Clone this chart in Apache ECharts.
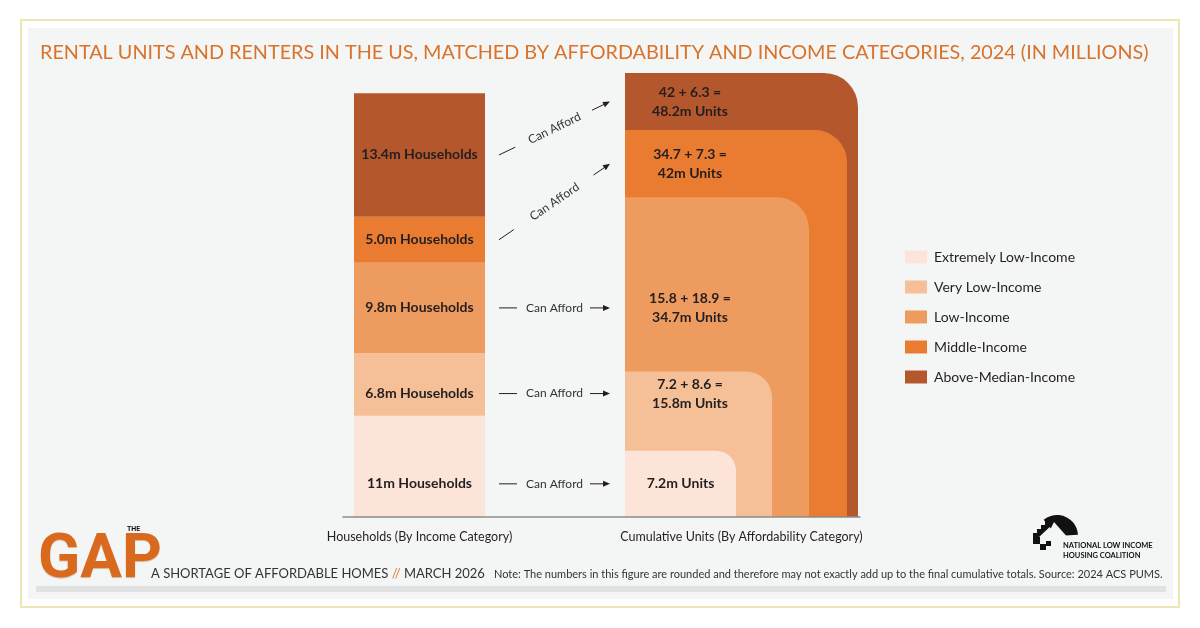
<!DOCTYPE html>
<html><head><meta charset="utf-8">
<script src="https://cdn.jsdelivr.net/npm/echarts@6/dist/echarts.min.js"></script>
<style>html,body{margin:0;padding:0;background:#fff}#c{width:1200px;height:628px}</style>
</head><body><div id="c"></div>
<script>
// ---- data ----
const categories = ['Extremely Low-Income', 'Very Low-Income', 'Low-Income', 'Middle-Income', 'Above-Median-Income'];
const households = [11, 6.8, 9.8, 5.0, 13.4];
const householdText = ['11', '6.8', '9.8', '5.0', '13.4'];
const unitsAdded = [7.2, 8.6, 18.9, 7.3, 6.3];
const cumulativeUnits = [7.2, 15.8, 34.7, 42, 48.2];
const xCategories = ['Households (By Income Category)', '', 'Cumulative Units (By Affordability Category)'];

// ---- styles ----
const colors = ['#fce5d8', '#f5bf97', '#ee9b5f', '#e97c31', '#b4572c'];
const blockWidths = [111, 147, 184, 222, 233];
const radii = [20, 26, 32, 32, 34];
const FONT = 'Lato, "Open Sans", sans-serif';
const INK = '#231f20';
const barW = 131;

const chart = echarts.init(document.getElementById('c'));

function rowLayout(y, i) {
  let lo = 0;
  for (let k = 0; k < i; k++) lo += households[k];
  const hi = lo + households[i];
  const lTop = y(hi), lBot = y(lo);
  const lc = (lTop + lBot) / 2;
  const rTop = y(cumulativeUnits[i]), rBot = y(i ? cumulativeUnits[i - 1] : 0);
  if (lc >= rTop && lc <= rBot) {
    const oTop = Math.max(lTop, rTop), oBot = Math.min(lBot, rBot);
    const m = (oTop + oBot) / 2;
    return { yl: m, yr: m };
  }
  return { yl: lc, yr: (rTop + rBot) / 2 };
}

function renderUnits(params, api) {
  const i = api.value(2);
  const y = v => api.coord([0, v])[1];
  const leftCx = api.coord([0, 0])[0];
  const rightCx = api.coord([2, 0])[0];
  const maxW = blockWidths[blockWidths.length - 1];
  const base = y(0);
  const blockLeft = rightCx - maxW / 2;
  const top = y(api.value(1));
  const children = [];
  children.push({
    type: 'rect',
    shape: { x: blockLeft, y: top, width: blockWidths[i], height: base - top, r: [0, radii[i], 0, 0] },
    style: { fill: colors[i] }
  });
  const lay = rowLayout(y, i);
  const txt = i === 0 ? cumulativeUnits[0] + 'm Units'
    : cumulativeUnits[i - 1] + ' + ' + unitsAdded[i] + ' =\n' + cumulativeUnits[i] + 'm Units';
  children.push({
    type: 'text', z2: 50,
    style: { text: txt, x: blockLeft + Math.min(65, blockWidths[i] / 2), y: lay.yr, align: 'center', verticalAlign: 'middle',
      fontSize: 14, fontWeight: 'bold', fontFamily: FONT, fill: INK, lineHeight: 19 }
  });
  children.push({
    type: 'text', z2: 50,
    style: { text: householdText[i] + 'm Households', x: leftCx, y: lay.yl, align: 'center', verticalAlign: 'middle',
      fontSize: 14, fontWeight: 'bold', fontFamily: FONT, fill: INK }
  });
  // arrow
  const ax = leftCx + barW / 2 + 14, ay = lay.yl;
  const bx = blockLeft - 15, by = lay.yr;
  const dx = bx - ax, dy = by - ay, len = Math.sqrt(dx * dx + dy * dy);
  const ux = dx / len, uy = dy / len, nx = -uy, ny = ux;
  children.push({ type: 'line', z2: 50, shape: { x1: ax, y1: ay, x2: ax + 18 * ux, y2: ay + 18 * uy }, style: { stroke: INK, lineWidth: 1 } });
  children.push({ type: 'line', z2: 50, shape: { x1: bx - 20 * ux, y1: by - 20 * uy, x2: bx - 5 * ux, y2: by - 5 * uy }, style: { stroke: INK, lineWidth: 1 } });
  children.push({ type: 'polygon', z2: 50, shape: { points: [[bx, by], [bx - 7 * ux + 3 * nx, by - 7 * uy + 3 * ny], [bx - 7 * ux - 3 * nx, by - 7 * uy - 3 * ny]] }, style: { fill: INK } });
  children.push({
    type: 'text', z2: 50, x: (ax + bx) / 2, y: (ay + by) / 2, rotation: Math.atan2(-dy, dx),
    style: { text: 'Can Afford', x: 0, y: 0, align: 'center', verticalAlign: 'middle', fontSize: 12, fontFamily: FONT, fill: '#333' }
  });
  return { type: 'group', children };
}

const barSeries = categories.map((name, i) => ({
  name, type: 'bar', stack: 'hh', barWidth: barW, silent: true,
  xAxisIndex: 0, yAxisIndex: 0,
  itemStyle: { color: colors[i] },
  data: [households[i], null, null]
}));

chart.setOption({
  backgroundColor: '#ffffff',
  animation: false,
  title: {
    text: 'RENTAL UNITS AND RENTERS IN THE US, MATCHED BY AFFORDABILITY AND INCOME CATEGORIES, 2024 (IN MILLIONS)',
    left: 35, top: 38,
    textStyle: { color: '#d9722b', fontSize: 19.8, fontWeight: 'normal', fontFamily: FONT }
  },
  legend: {
    orient: 'vertical', left: 900, top: 245, itemWidth: 22, itemHeight: 13, itemGap: 16, icon: 'rect',
    data: categories, selectedMode: false,
    textStyle: { color: INK, fontSize: 14, fontFamily: FONT, padding: [0, 0, 0, 2] }
  },
  grid: [
    { left: 339, width: 483, top: 73, bottom: 111 },
    { left: 343, width: 517, top: 73, bottom: 111 }
  ],
  xAxis: [
    { type: 'category', gridIndex: 0, data: xCategories, axisLine: { show: false }, axisTick: { show: false },
      axisLabel: { color: INK, fontSize: 12.5, fontFamily: FONT, margin: 13 } },
    { type: 'value', gridIndex: 1, min: 0, max: 1, z: 5, position: 'bottom',
      axisLine: { show: true, onZero: false, lineStyle: { color: '#8c8c8c', width: 1.5 } },
      axisTick: { show: false }, axisLabel: { show: false }, splitLine: { show: false } }
  ],
  yAxis: [
    { type: 'value', gridIndex: 0, min: 0, max: Math.max(...cumulativeUnits), show: false },
    { type: 'value', gridIndex: 1, min: 0, max: 1, show: false }
  ],
  series: [
    ...barSeries,
    {
      type: 'custom', name: 'Cumulative Units', coordinateSystem: 'cartesian2d', xAxisIndex: 0, yAxisIndex: 0,
      silent: true, clip: false,
      renderItem: renderUnits,
      encode: { x: 0, y: 1 },
      data: [4, 3, 2, 1, 0].map(i => [2, cumulativeUnits[i], i])
    }
  ],
  graphic: [
    { type: 'rect', z: -10, shape: { x: 21, y: 20, width: 1158, height: 587 }, style: { fill: '#ffffff', stroke: '#f0e6b4', lineWidth: 2 } },
    { type: 'rect', z: -9, shape: { x: 28, y: 28, width: 1145, height: 571 }, style: { fill: '#f4f6f6' } },
    { type: 'rect', z: -8, shape: { x: 36, y: 586, width: 1130, height: 6 }, style: { fill: '#dfe1e2' } },
    { type: 'text', z: 1, style: { text: 'GAP', x: 38, y: 592, fontSize: 62, fontWeight: 'bold', fontFamily: 'Roboto, sans-serif', fill: '#d9691d', verticalAlign: 'bottom',
      textShadowColor: 'rgba(150,60,10,0.35)', textShadowOffsetY: 1, textShadowBlur: 1 } },
    { type: 'text', z: 2, style: { text: 'THE', x: 127, y: 526, fontSize: 7, fontWeight: 'bold', fontFamily: 'Roboto, sans-serif', fill: '#111' } },
    { type: 'text', z: 1, style: { text: 'A SHORTAGE OF AFFORDABLE HOMES {o|//} MARCH 2026', x: 151, y: 574, verticalAlign: 'middle',
      fontSize: 13, fontFamily: FONT, fill: '#333', rich: { o: { fontSize: 13, fontFamily: FONT, fill: '#e07a2e' } } } },
    { type: 'text', z: 1, style: { text: 'Note: The numbers in this figure are rounded and therefore may not exactly add up to the final cumulative totals. Source: 2024 ACS PUMS.',
      x: 494, y: 574, verticalAlign: 'middle', fontSize: 11, fontFamily: FONT, fill: '#333' } },
    // NLIHC logo
    { type: 'sector', z: 1, shape: { cx: 1057, cy: 536, r: 21, r0: 0, startAngle: -Math.PI * 0.72, endAngle: -Math.PI * 0.02 }, style: { fill: '#111' } },
    { type: 'polygon', z: 1, shape: { points: [[1033, 533], [1037, 533], [1037, 529], [1041, 529], [1041, 525], [1045, 525], [1045, 521], [1049, 521], [1049, 517], [1053, 517], [1055, 522], [1038, 538], [1033, 538]] }, style: { fill: '#111' } },
    { type: 'polygon', z: 2, shape: { points: [[1041, 548], [1054, 522], [1077, 548]] }, style: { fill: '#f4f6f6' } },
    { type: 'rect', z: 3, shape: { x: 1033, y: 537, width: 7, height: 7 }, style: { fill: '#111' } },
    { type: 'rect', z: 3, shape: { x: 1040, y: 544, width: 6, height: 6 }, style: { fill: '#111' } },
    { type: 'rect', z: 3, shape: { x: 1046, y: 541, width: 5, height: 5 }, style: { fill: '#111' } },
    { type: 'text', z: 3, style: { text: 'NATIONAL LOW INCOME\nHOUSING COALITION', x: 1063, y: 541, fontSize: 7.5, lineHeight: 10, fontWeight: 'bold', fontFamily: FONT, fill: '#111' } }
  ]
});
</script></body></html>
